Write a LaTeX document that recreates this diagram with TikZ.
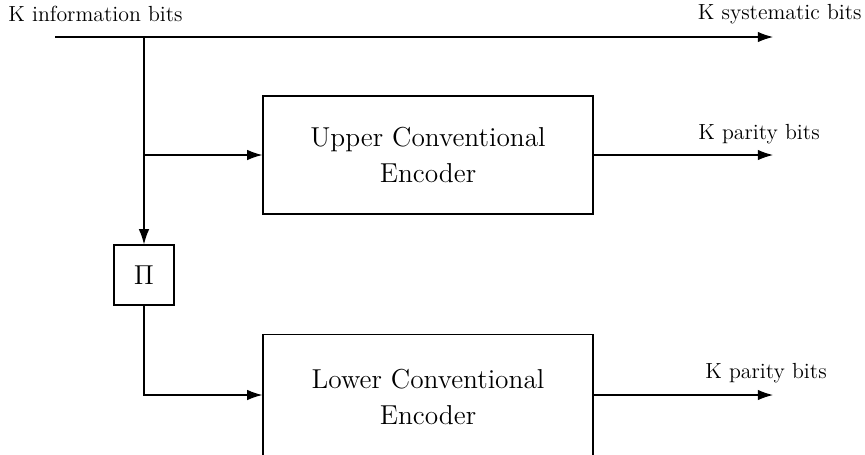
\documentclass[tikz,border=0pt]{standalone}
\usetikzlibrary{arrows.meta,positioning}
\tikzset{
  encbox/.style={draw, line width=0.6pt, minimum width=6.105cm, minimum height=2.183cm, align=center, font=\Large},
  pibox/.style={draw, line width=0.6pt, minimum width=1.11cm, minimum height=1.11cm, font=\Large},
  sig/.style={line width=0.6pt, -{Latex[length=8pt,width=5.5pt]}},
  lbl/.style={font=\fontsize{11.5}{14}\selectfont, inner sep=0pt}
}
\begin{document}
\begin{tikzpicture}[x=0.0185cm, y=-0.0185cm]
              \useasboundingbox (0,0) rectangle (865,454);

              \node[encbox] (upper) at (428,155) {Upper Conventional\\[1pt] Encoder};
              \node[encbox, minimum height=2.3cm] (lower) at (428,397) {Lower Conventional\\[1pt] Encoder};
              \node[pibox] (pi) at (144,275) {$\Pi$};

              \coordinate (in) at (55,37);
              \coordinate (split) at (144,37);
              \coordinate (sysout) at (773,37);
              \coordinate (upbranch) at (144,155);
              \coordinate (upout) at (773,155);
              \coordinate (lowout) at (773,395);

              \draw[sig] (in) -- (sysout);
              \draw[sig] (split) -- (pi.north);
              \draw[sig] (upbranch) -- (upper.west |- upbranch);
              \draw[sig] (pi.south) |- (lower.west |- lowout);
              \draw[sig] (upper.east) -- (upout);
              \draw[sig] (lower.east |- lowout) -- (lowout);

              \node[lbl, anchor=west] (inlabel) at (8,14) {K information bits};
              \node[lbl, anchor=east] (syslabel) at (862,14) {K systematic bits};
              \node[lbl] (uplabel) at (759,134) {K parity bits};
              \node[lbl] (lowlabel) at (766,373) {K parity bits};
          \end{tikzpicture}
\end{document}
